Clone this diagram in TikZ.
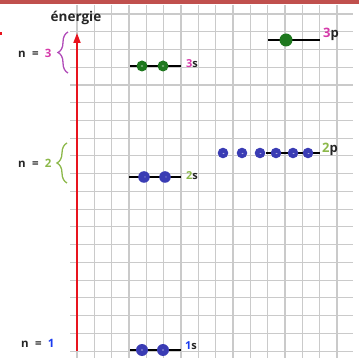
\documentclass[tikz,border=0pt]{standalone}
\usepackage{fontspec}
\setmainfont{Open Sans}
\usetikzlibrary{arrows.meta,decorations.pathreplacing}
\definecolor{topbar}{RGB}{192,80,77}
\definecolor{gridgray}{RGB}{202,202,202}
\definecolor{axisred}{RGB}{232,20,30}
\definecolor{nthree}{RGB}{214,58,170}
\definecolor{bracethree}{RGB}{176,74,184}
\definecolor{ntwo}{RGB}{140,184,74}
\definecolor{levelone}{RGB}{26,60,240}
\definecolor{egreen}{RGB}{30,120,30}
\definecolor{eblue}{RGB}{58,60,180}

\begin{document}
\begin{tikzpicture}[x=1pt,y=-1pt,
  gridline/.style={gridgray,line width=1.1pt},
  level/.style={black,line width=1.8pt},
  nlabel/.style={anchor=base west,inner sep=0pt,text=black!85,font=\fontsize{11.5}{13}\selectfont\bfseries},
  slabel/.style={anchor=base west,inner sep=0pt,text=black!85,font=\fontsize{11}{13}\selectfont\bfseries},
  plabel/.style={anchor=base west,inner sep=0pt,text=black!85,font=\fontsize{13}{15}\selectfont\bfseries}]
  \useasboundingbox (0,0) rectangle (359,358);
  % grid
  \foreach \k in {0,...,15} \draw[gridline] (77+17.33*\k,5) -- (77+17.33*\k,358);
  \foreach \j in {0,...,19} \draw[gridline] (70,14+17.74*\j) -- (353,14+17.74*\j);
  \fill[topbar] (0,0) rectangle (359,4.5);
  \fill[axisred] (0,32) rectangle (2,35);
  % energy axis
  \draw[axisred,line width=1.8pt,-{Triangle[length=10pt,width=7pt]}] (77,351) -- (77,33);
  \node[anchor=base,inner sep=0pt,text=black!85,font=\fontsize{13.5}{15}\selectfont\bfseries] (energie) at (76,22) {énergie};
  % shells
  \node[nlabel] (n3) at (18,58) {n\hspace{0.55em}=\hspace{0.55em}\textcolor{nthree}{3}};
  \node[nlabel] (n2) at (18,168) {n\hspace{0.55em}=\hspace{0.55em}\textcolor{ntwo}{2}};
  \node[nlabel] (n1) at (21,348) {n\hspace{0.55em}=\hspace{0.55em}\textcolor{levelone}{1}};
  \draw[bracethree,line width=1.3pt,decorate,decoration={brace,amplitude=10pt}] (68,73) -- (68,32);
  \draw[ntwo,line width=1.3pt,decorate,decoration={brace,amplitude=10pt}] (67,183) -- (67,143);
  % levels
  \draw[level] (130,66) -- (181,66);
  \draw[level] (129,177) -- (181,177);
  \draw[level] (130,350) -- (181,350);
  \draw[level] (266,153) -- (320,153);
  \draw[level] (268,40) -- (320,40);
  % electrons
  \foreach \x in {142,163} {\fill[egreen] (\x,66) circle (5.5); \fill[egreen!35] (\x,66) ellipse (1.3 and 0.7);}
  \foreach \x in {144,165} {\fill[eblue] (\x,177) circle (5.8); \fill[eblue!45] (\x+1,177) ellipse (0.9 and 0.5);}
  \foreach \x in {142,163} {\fill[eblue] (\x,350) circle (6); \fill[eblue!40] (\x,350) ellipse (1.1 and 0.7);}
  \foreach \x in {223,242,260,276,293,308} {\fill[eblue] (\x,153) circle (5.3); \fill[eblue!40] (\x+0.5,153.5) ellipse (1 and 0.6);}
  \fill[egreen] (286,40) circle (6.5);
  % level names
  \node[slabel] (s3) at (186,68) {\textcolor{nthree}{3}s};
  \node[slabel] (s2) at (186,180) {\textcolor{ntwo}{2}s};
  \node[slabel] (s1) at (185,349) {\textcolor{levelone}{1}s};
  \node[plabel] (p2) at (322,153) {\textcolor{ntwo}{2}p};
  \node[plabel] (p3) at (323,38) {\textcolor{nthree}{3}p};
\end{tikzpicture}
\end{document}
